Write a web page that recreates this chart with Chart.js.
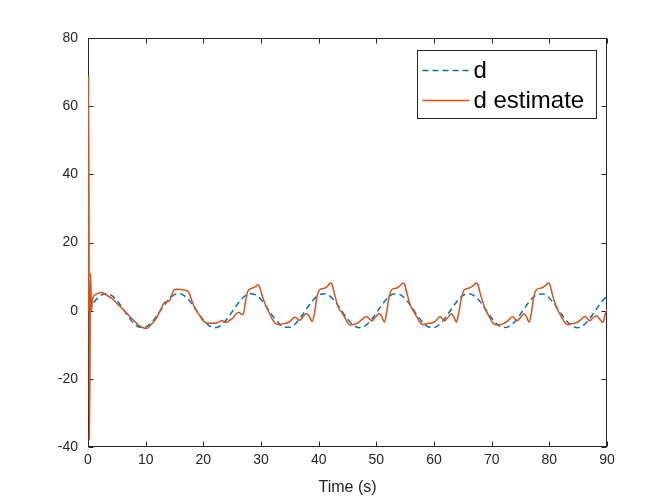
<!DOCTYPE html>
<html>
<head>
<meta charset="utf-8">
<script src="https://cdn.jsdelivr.net/npm/chart.js@4"></script>
<style>
  html, body { margin: 0; padding: 0; background: #fff; }
  canvas { display: block; }
</style>
</head>
<body>
<canvas id="chart" width="671" height="503"></canvas>
<script>
// d : reference disturbance, read every second
const dTime = [0,1,2,3,4,5,6,7,8,9,10,11,12,13,14,15,16,17,18,19,20,21,22,23,24,25,26,27,28,29,30,
  31,32,33,34,35,36,37,38,39,40,41,42,43,44,45,46,47,48,49,50,51,52,53,54,55,56,57,58,59,60,
  61,62,63,64,65,66,67,68,69,70,71,72,73,74,75,76,77,78,79,80,81,82,83,84,85,86,87,88,89,90];
const dValue = [0,2.40,4.21,4.99,4.55,2.99,0.71,-1.75,-3.78,-4.89,-4.79,-3.53,-1.40,1.08,3.28,4.69,
  4.95,3.99,2.06,-0.38,-2.72,-4.40,-5.00,-4.38,-2.68,-0.33,2.10,4.02,4.95,4.67,3.25,
  1.03,-1.44,-3.56,-4.81,-4.88,-3.76,-1.71,0.75,3.03,4.56,4.99,4.18,2.36,-0.04,-2.44,
  -4.23,-4.99,-4.53,-2.96,-0.66,1.79,3.81,4.90,4.78,3.50,1.36,-1.11,-3.32,-4.71,-4.94,
  -3.97,-2.02,0.42,2.76,4.42,5.00,4.36,2.65,0.29,-2.14,-4.05,-4.96,-4.66,-3.22,-0.99,
  1.48,3.59,4.82,4.87,3.72,1.67,-0.79,-3.06,-4.58,-4.98,-4.16,-2.32,0.09,2.48,4.25];

// d estimate
const estTime = [0,0.12,0.25,0.45,0.6,0.8,1.3,2.3,3.2,4.4,5.2,6.1,7.0,7.9,8.8,9.7,10.2,11.0,11.9,
  12.6,13.2,13.7,14.1,14.5,15.0,15.6,16.4,17.1,17.5,18.0,18.6,19.2,20.0,20.7,21.5,22.3,
  22.8,23.2,23.6,24.0,24.6,25.2,25.7,26.1,26.5,26.9,27.3,27.7,28.2,28.8,29.2,29.5,29.8,
  30.2,30.7,31.3,31.9,32.6,33.2,33.9,34.5,35.2,35.8,36.2,36.7,37.3,37.9,38.4,38.9,39.3,
  39.7,40.2,40.8,41.3,41.7,42.0,42.3,42.8,43.4,44.0,44.4,45.0,45.5,46.2,46.8,47.5,48.3,
  48.8,49.2,49.9,50.5,51.0,51.4,51.8,52.2,52.7,53.4,53.9,54.3,54.6,54.9,55.4,55.9,56.4,
  57.0,57.5,58.1,58.8,59.5,60.2,61.0,61.4,61.8,62.4,63.0,63.5,63.9,64.3,64.8,65.3,65.9,
  66.4,66.9,67.3,67.6,68.1,68.6,69.0,69.6,70.1,70.6,71.3,72.0,72.8,73.6,74.0,74.4,75.0,
  75.6,76.1,76.5,76.9,77.3,77.8,78.5,79.0,79.5,79.8,80.1,80.6,81.1,81.5,82.1,82.6,83.2,
  83.9,84.6,85.4,86.2,86.6,87.0,87.6,88.2,88.8,89.3,89.7,90.0];
const estValue = [0,69,-38,11,0,3.5,4.7,5.3,4.6,3.2,1.8,0.3,-1.3,-2.8,-4.3,-5.1,-5.2,-4.0,-2.1,
  0.3,2.3,2.7,2.8,4.5,6.2,6.3,6.1,5.9,5.3,3.0,0.5,-1.0,-3.0,-3.6,-3.7,-3.6,
  -3.2,-2.9,-3.2,-3.4,-2.8,-2.0,-0.9,-0.5,-0.9,-1.2,2.5,5.6,6.4,6.8,7.3,7.6,6.8,
  4.5,2.0,-0.2,-2.3,-3.9,-4.1,-3.8,-3.6,-2.9,-1.9,-2.2,-2.8,-1.8,-0.8,-1.8,-3.2,-0.5,
  4.0,6.2,6.5,6.8,7.5,8.1,7.8,4.5,1.0,-0.5,-1.6,-3.5,-4.2,-4.0,-3.6,-2.6,-1.7,
  -2.4,-3.0,-1.8,-0.8,-1.9,-3.4,-0.5,4.0,6.2,6.6,7.0,7.6,8.1,7.7,4.5,1.6,0.0,
  -1.8,-3.2,-4.1,-3.8,-3.6,-3.2,-1.8,-2.3,-3.0,-2.0,-0.9,-2.0,-3.4,-0.5,4.0,6.2,6.5,
  6.9,7.5,8.1,7.7,4.5,1.8,0.0,-1.8,-3.3,-4.1,-4.1,-3.8,-3.0,-1.8,-2.3,-3.0,-2.0,
  -0.9,-2.0,-3.4,-0.5,4.0,6.2,6.6,7.0,7.6,8.1,7.6,4.3,1.6,0.0,-1.8,-3.3,-4.1,
  -3.8,-3.6,-2.7,-1.7,-2.3,-3.0,-2.0,-1.5,-2.6,-3.5,-1.0,0.3];

const xTicks = [0,10,20,30,40,50,60,70,80,90];
const yTicks = [-40,-20,0,20,40,60,80];

const axisColor = '#262626';
const family = '"Liberation Sans", Arial, sans-serif';
const blue = '#0072BD';
const orange = '#D95319';

// box round the axes with inward ticks on all four sides, plus the legend
const matlabAxes = {
  id: 'matlabAxes',
  beforeDatasetsDraw(chart) {
    const { ctx, chartArea: a, scales: { x, y } } = chart;
    const L = Math.round(a.left) + 0.5, R = Math.round(a.right) - 0.5;
    const T = Math.round(a.top) + 0.5, B = Math.round(a.bottom) - 0.5;
    const tl = 5;
    ctx.save();
    ctx.strokeStyle = axisColor;
    ctx.lineWidth = 1;
    ctx.strokeRect(L, T, R - L, B - T);
    ctx.beginPath();
    xTicks.forEach(v => {
      const p = Math.round(x.getPixelForValue(v)) + 0.5;
      ctx.moveTo(p, B); ctx.lineTo(p, B - tl);
      ctx.moveTo(p, T); ctx.lineTo(p, T + tl);
    });
    yTicks.forEach(v => {
      const p = Math.round(y.getPixelForValue(v)) + 0.5;
      ctx.moveTo(L, p); ctx.lineTo(L + tl, p);
      ctx.moveTo(R, p); ctx.lineTo(R - tl, p);
    });
    ctx.stroke();
    ctx.restore();
  },
  afterDraw(chart) {
    const { ctx, chartArea: a } = chart;
    ctx.save();
    ctx.font = '24px ' + family;
    const items = chart.data.datasets.slice().sort((p, q) => q.order - p.order);
    const textW = Math.max(...items.map(d => ctx.measureText(d.label).width));
    const lineLen = 47, padL = 5, gap = 4, padR = 12, rowH = 30;
    const w = Math.round(padL + lineLen + gap + textW + padR);
    const h = 68;
    const bx = Math.round(a.right - 11 - w) + 0.5, by = Math.round(a.top + 12) + 0.5;
    ctx.fillStyle = '#fff';
    ctx.fillRect(bx, by, w, h);
    ctx.strokeStyle = axisColor;
    ctx.lineWidth = 1;
    ctx.strokeRect(bx, by, w, h);
    items.forEach((d, i) => {
      const cy = by + 20 + rowH * i;
      ctx.beginPath();
      ctx.strokeStyle = d.borderColor;
      ctx.lineWidth = 1.5;
      ctx.setLineDash(d.borderDash || []);
      ctx.moveTo(bx + padL, cy);
      ctx.lineTo(bx + padL + lineLen, cy);
      ctx.stroke();
      ctx.setLineDash([]);
      ctx.fillStyle = '#000';
      ctx.textBaseline = 'middle';
      ctx.textAlign = 'left';
      ctx.fillText(d.label, bx + padL + lineLen + gap, cy + 1);
    });
    ctx.restore();
  }
};

new Chart(document.getElementById('chart'), {
  type: 'line',
  data: {
    datasets: [
      {
        label: 'd',
        data: dTime.map((t, i) => ({ x: t, y: dValue[i] })),
        borderColor: blue,
        borderWidth: 1.5,
        borderDash: [6, 4],
        pointRadius: 0,
        cubicInterpolationMode: 'monotone',
        order: 1,
      },
      {
        label: 'd estimate',
        data: estTime.map((t, i) => ({ x: t, y: estValue[i] })),
        borderColor: orange,
        borderWidth: 1.5,
        pointRadius: 0,
        cubicInterpolationMode: 'monotone',
        order: 0,
      },
    ],
  },
  options: {
    responsive: false,
    animation: false,
    layout: { padding: { left: 0, top: 38, right: 64, bottom: 0 } },
    plugins: {
      legend: { display: false },
      tooltip: { enabled: false },
    },
    scales: {
      x: {
        type: 'linear',
        min: 0,
        max: 90,
        afterBuildTicks: s => { s.ticks = xTicks.map(v => ({ value: v })); },
        afterFit: s => { s.height = 56; },
        grid: { display: false, drawTicks: false },
        border: { display: false },
        ticks: { color: axisColor, font: { family, size: 14 }, padding: 5, maxRotation: 0 },
        title: {
          display: true,
          text: 'Time (s)',
          color: axisColor,
          font: { family, size: 16 },
          padding: { top: 0, bottom: 6 },
        },
      },
      y: {
        type: 'linear',
        min: -40,
        max: 80,
        afterBuildTicks: s => { s.ticks = yTicks.map(v => ({ value: v })); },
        afterFit: s => { s.width = 88; },
        grid: { display: false, drawTicks: false },
        border: { display: false },
        ticks: { color: axisColor, font: { family, size: 14 }, padding: 10 },
      },
    },
  },
  plugins: [matlabAxes],
});
</script>
</body>
</html>
